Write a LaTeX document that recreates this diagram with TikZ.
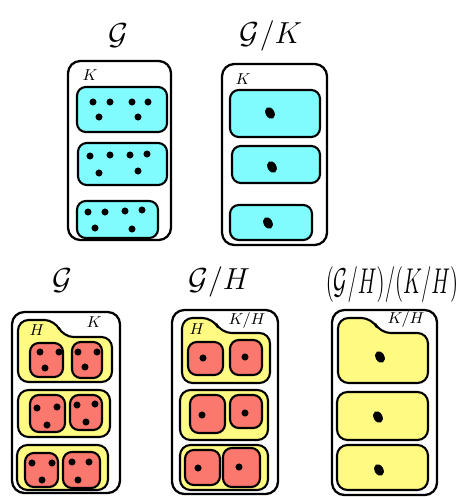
\documentclass[tikz,border=0pt]{standalone}
\usepackage{amsmath}
\usepackage{graphicx}
\definecolor{bluefill}{RGB}{128,252,255}
\definecolor{yellowfill}{RGB}{255,250,130}
\definecolor{redfill}{RGB}{250,120,110}
\tikzset{
    group/.style={draw, line width=1.3pt, rounded corners=7pt},
    coset/.style={draw, line width=1.2pt, rounded corners=5pt, fill=bluefill},
    hcoset/.style={draw, line width=1.2pt, rounded corners=6pt, fill=yellowfill},
    elem/.style={draw, line width=1.2pt, rounded corners=5pt, fill=redfill},
    title/.style={font=\fontsize{19}{22}\selectfont},
    longtitle/.style={font=\fontsize{12}{15}\selectfont},
    tag/.style={font=\small},
    pt/.style={circle, fill, inner sep=0pt, minimum size=4pt},
    bigpt/.style={ellipse, fill, inner sep=0pt, minimum width=5pt, minimum height=7pt, rotate=30},
}
\usetikzlibrary{shapes.geometric}
\begin{document}
\begin{tikzpicture}[x=0.02cm, y=-0.02cm]
    \useasboundingbox (0,0) rectangle (460,497);
    % top left: G with cosets of K
    \node[title] (tG) at (118,36) {$\mathcal{G}$};
    \draw[group] (68,61) rectangle (171,240);
    \node[tag] (kA) at (90,75) {$K$};
    \draw[coset] (77,87) rectangle (167,132);
    \draw[coset] (78,143) rectangle (167,185);
    \draw[coset] (77,201) rectangle (158,238);
    \node[pt] (a1) at (93,102) {};
    \node[pt] (a2) at (110,102) {};
    \node[pt] (a3) at (132,102) {};
    \node[pt] (a4) at (148,102) {};
    \node[pt] (a5) at (99,117) {};
    \node[pt] (a6) at (138,117) {};
    \node[pt] (b1) at (90,156) {};
    \node[pt] (b2) at (110,155) {};
    \node[pt] (b3) at (130,155) {};
    \node[pt] (b4) at (147,154) {};
    \node[pt] (b5) at (99,173) {};
    \node[pt] (b6) at (138,171) {};
    \node[pt] (c1) at (88,212) {};
    \node[pt] (c2) at (105,212) {};
    \node[pt] (c3) at (125,211) {};
    \node[pt] (c4) at (142,210) {};
    \node[pt] (c5) at (95,228) {};
    \node[pt] (c6) at (132,229) {};
    % top right: G/K
    \node[title] (tGK) at (271,36) {$\mathcal{G}/K$};
    \draw[group] (222,64) rectangle (327,245);
    \node[tag] (kB) at (243,79) {$K$};
    \draw[coset] (230,90) rectangle (320,137);
    \draw[coset] (232,146) rectangle (320,183);
    \draw[coset] (230,205) rectangle (312,240);
    \node[bigpt] (d1) at (270,113) {};
    \node[bigpt] (d2) at (272,167) {};
    \node[bigpt] (d3) at (268,223) {};
    % bottom left: G with cosets of H inside cosets of K
    \node[title] (tG2) at (62,281) {$\mathcal{G}$};
    \draw[group] (12,312) rectangle (120,493);
    \node[tag] (kC) at (94,322) {$K$};
    \draw[hcoset] (18,320) -- (55,320) -- (63,337) -- (112,337) -- (112,382) -- (18,382) -- cycle;
    \node[tag] (hC) at (37,330) {$H$};
    \draw[hcoset] (18,390) rectangle (110,437);
    \draw[hcoset] (17,445) rectangle (108,490);
    \draw[elem] (30,343) rectangle (63,377);
    \draw[elem] (72,342) rectangle (102,378);
    \draw[elem] (30,395) rectangle (65,432);
    \draw[elem] (70,395) rectangle (102,430);
    \draw[elem] (25,453) rectangle (58,487);
    \draw[elem] (63,452) rectangle (100,488);
    \node[pt] (e1) at (40,352) {};
    \node[pt] (e2) at (59,352) {};
    \node[pt] (e3) at (45,368) {};
    \node[pt] (e4) at (78,352) {};
    \node[pt] (e5) at (97,352) {};
    \node[pt] (e6) at (85,367) {};
    \node[pt] (f1) at (37,408) {};
    \node[pt] (f2) at (57,407) {};
    \node[pt] (f3) at (47,425) {};
    \node[pt] (f4) at (77,405) {};
    \node[pt] (f5) at (95,404) {};
    \node[pt] (f6) at (86,422) {};
    \node[pt] (g1) at (32,463) {};
    \node[pt] (g2) at (52,463) {};
    \node[pt] (g3) at (42,480) {};
    \node[pt] (g4) at (72,462) {};
    \node[pt] (g5) at (89,462) {};
    \node[pt] (g6) at (78,480) {};
    % bottom middle: G/H
    \node[title] (tGH) at (219,282) {$\mathcal{G}/H$};
    \draw[group] (172,310) rectangle (278,494);
    \node[tag] (kD) at (247,321) {$K/H$};
    \draw[hcoset] (182,318) -- (213,318) -- (221,333) -- (270,333) -- (270,383) -- (182,383) -- cycle;
    \node[tag] (hD) at (197,329) {$H$};
    \draw[hcoset] (180,390) rectangle (268,440);
    \draw[hcoset] (180,445) rectangle (268,490);
    \draw[elem] (188,342) rectangle (223,375);
    \draw[elem] (230,340) rectangle (262,375);
    \draw[elem] (190,395) rectangle (225,433);
    \draw[elem] (230,395) rectangle (262,428);
    \draw[elem] (185,450) rectangle (220,485);
    \draw[elem] (223,448) rectangle (260,487);
    \node[pt] (h1) at (203,358) {};
    \node[pt] (h2) at (245,357) {};
    \node[pt] (h3) at (202,415) {};
    \node[pt] (h4) at (245,413) {};
    \node[pt] (h5) at (198,468) {};
    \node[pt] (h6) at (239,467) {};
    % bottom right: (G/H)/(K/H)
    \node[longtitle] (tQ) at (392,285) {\scalebox{1}[1.7]{$(\mathcal{G}/H)/(K/H)$}};
    \draw[group] (332,310) rectangle (437,495);
    \node[tag] (kE) at (406,320) {$K/H$};
    \draw[hcoset] (338,318) -- (372,318) -- (380,333) -- (428,333) -- (428,383) -- (338,383) -- cycle;
    \draw[hcoset] (337,392) rectangle (428,440);
    \draw[hcoset] (337,445) rectangle (428,490);
    \node[bigpt] (q1) at (380,357) {};
    \node[bigpt] (q2) at (378,417) {};
    \node[bigpt] (q3) at (379,470) {};
\end{tikzpicture}
\end{document}
